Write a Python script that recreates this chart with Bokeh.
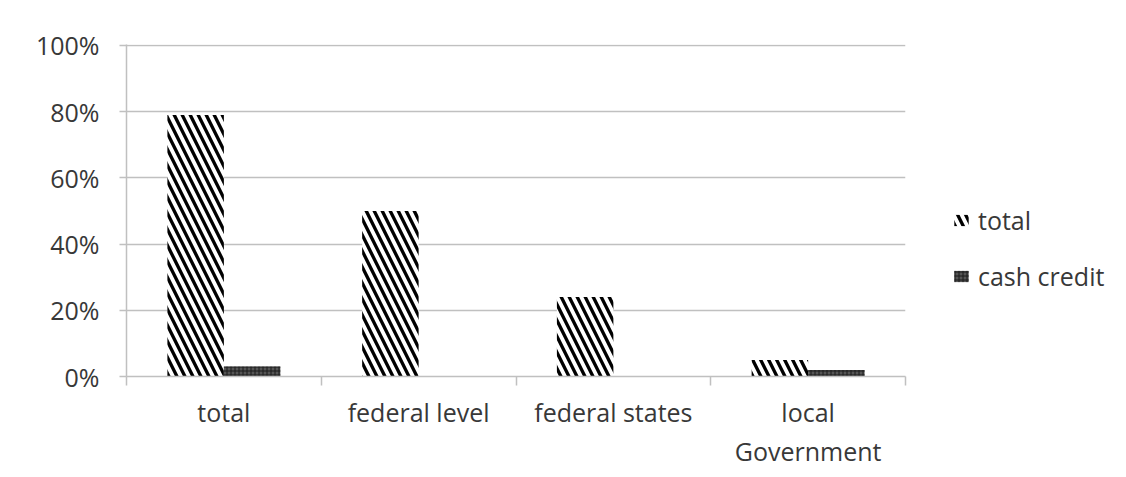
from bokeh.plotting import figure
from bokeh.models import (ColumnDataSource, FixedTicker, Range1d, Legend,
                          LegendItem, NumeralTickFormatter)
from bokeh.embed import file_html
from bokeh.resources import INLINE

# Share of debt by level of government
categories = ["total", "federal level", "federal states", "local\nGovernment"]
total_share = [0.79, 0.50, 0.24, 0.05]
cash_credit_share = [0.03, 0.0, 0.0, 0.02]
y_ticks = [0, 0.2, 0.4, 0.6, 0.8, 1.0]

FONT = "Open Sans"
TEXT = "#383838"
GRID = "#c0c0c0"

n = len(categories)
bar_w = 0.29
idx = list(range(n))
src_total = ColumnDataSource(dict(x=[i + 0.5 - bar_w / 2 for i in idx], top=total_share))
src_cash = ColumnDataSource(dict(x=[i + 0.5 + bar_w / 2 for i in idx], top=cash_credit_share))

p = figure(frame_width=779, frame_height=332, output_backend="svg", toolbar_location=None,
           x_range=Range1d(0, n), y_range=Range1d(0, 1.003),
           min_border_left=126, min_border_right=0,
           min_border_top=44, min_border_bottom=0)
p.outline_line_color = None
p.background_fill_color = "white"
p.border_fill_color = "white"

r_total = p.vbar(x="x", top="top", width=bar_w, source=src_total,
                 fill_color="white", line_color=None,
                 hatch_pattern="\\", hatch_color="black",
                 hatch_scale=16, hatch_weight=3.3)
r_cash = p.vbar(x="x", top="top", width=bar_w, source=src_cash,
                fill_color="#555555", line_color=None,
                hatch_pattern="+", hatch_color="#1a1a1a",
                hatch_scale=4, hatch_weight=1)

# x axis: ticks between categories, labels at category centres
xa = p.xaxis[0]
xa.ticker = FixedTicker(ticks=[i + 0.5 for i in idx], minor_ticks=list(range(n + 1)))
xa.major_label_overrides = {i + 0.5: c for i, c in zip(idx, categories)}
xa.major_tick_line_color = None
xa.major_tick_out = 0
xa.minor_tick_line_color = GRID
xa.minor_tick_line_width = 1.5
xa.minor_tick_out = 9
xa.minor_tick_in = 0
xa.axis_line_color = GRID
xa.axis_line_width = 1.5
xa.major_label_standoff = 9
xa.major_label_text_font = FONT
xa.major_label_text_font_size = "25px"
xa.major_label_text_line_height = 1.15
xa.major_label_text_color = TEXT

ya = p.yaxis[0]
ya.ticker = FixedTicker(ticks=y_ticks)
ya.formatter = NumeralTickFormatter(format="0%")
ya.minor_tick_line_color = None
ya.major_tick_line_color = GRID
ya.major_tick_line_width = 1.5
ya.major_tick_out = 7
ya.major_tick_in = 0
ya.axis_line_color = GRID
ya.axis_line_width = 1.5
ya.major_label_standoff = 20
ya.major_label_text_font = FONT
ya.major_label_text_font_size = "25px"
ya.major_label_text_color = TEXT

p.xgrid.grid_line_color = None
p.ygrid.ticker = FixedTicker(ticks=y_ticks)
p.ygrid.grid_line_color = GRID
p.ygrid.grid_line_width = 1.5

legend = Legend(items=[LegendItem(label="total", renderers=[r_total]),
                       LegendItem(label="cash credit", renderers=[r_cash])],
                location=(47, 83), border_line_color=None,
                background_fill_alpha=0,
                label_text_font=FONT, label_text_font_size="25px",
                label_text_color=TEXT, glyph_width=18, glyph_height=14,
                label_standoff=8, spacing=22, padding=0, margin=0)
p.add_layout(legend, "right")
p.min_border_right = 221

open("out.html", "w").write(file_html(p, INLINE))
